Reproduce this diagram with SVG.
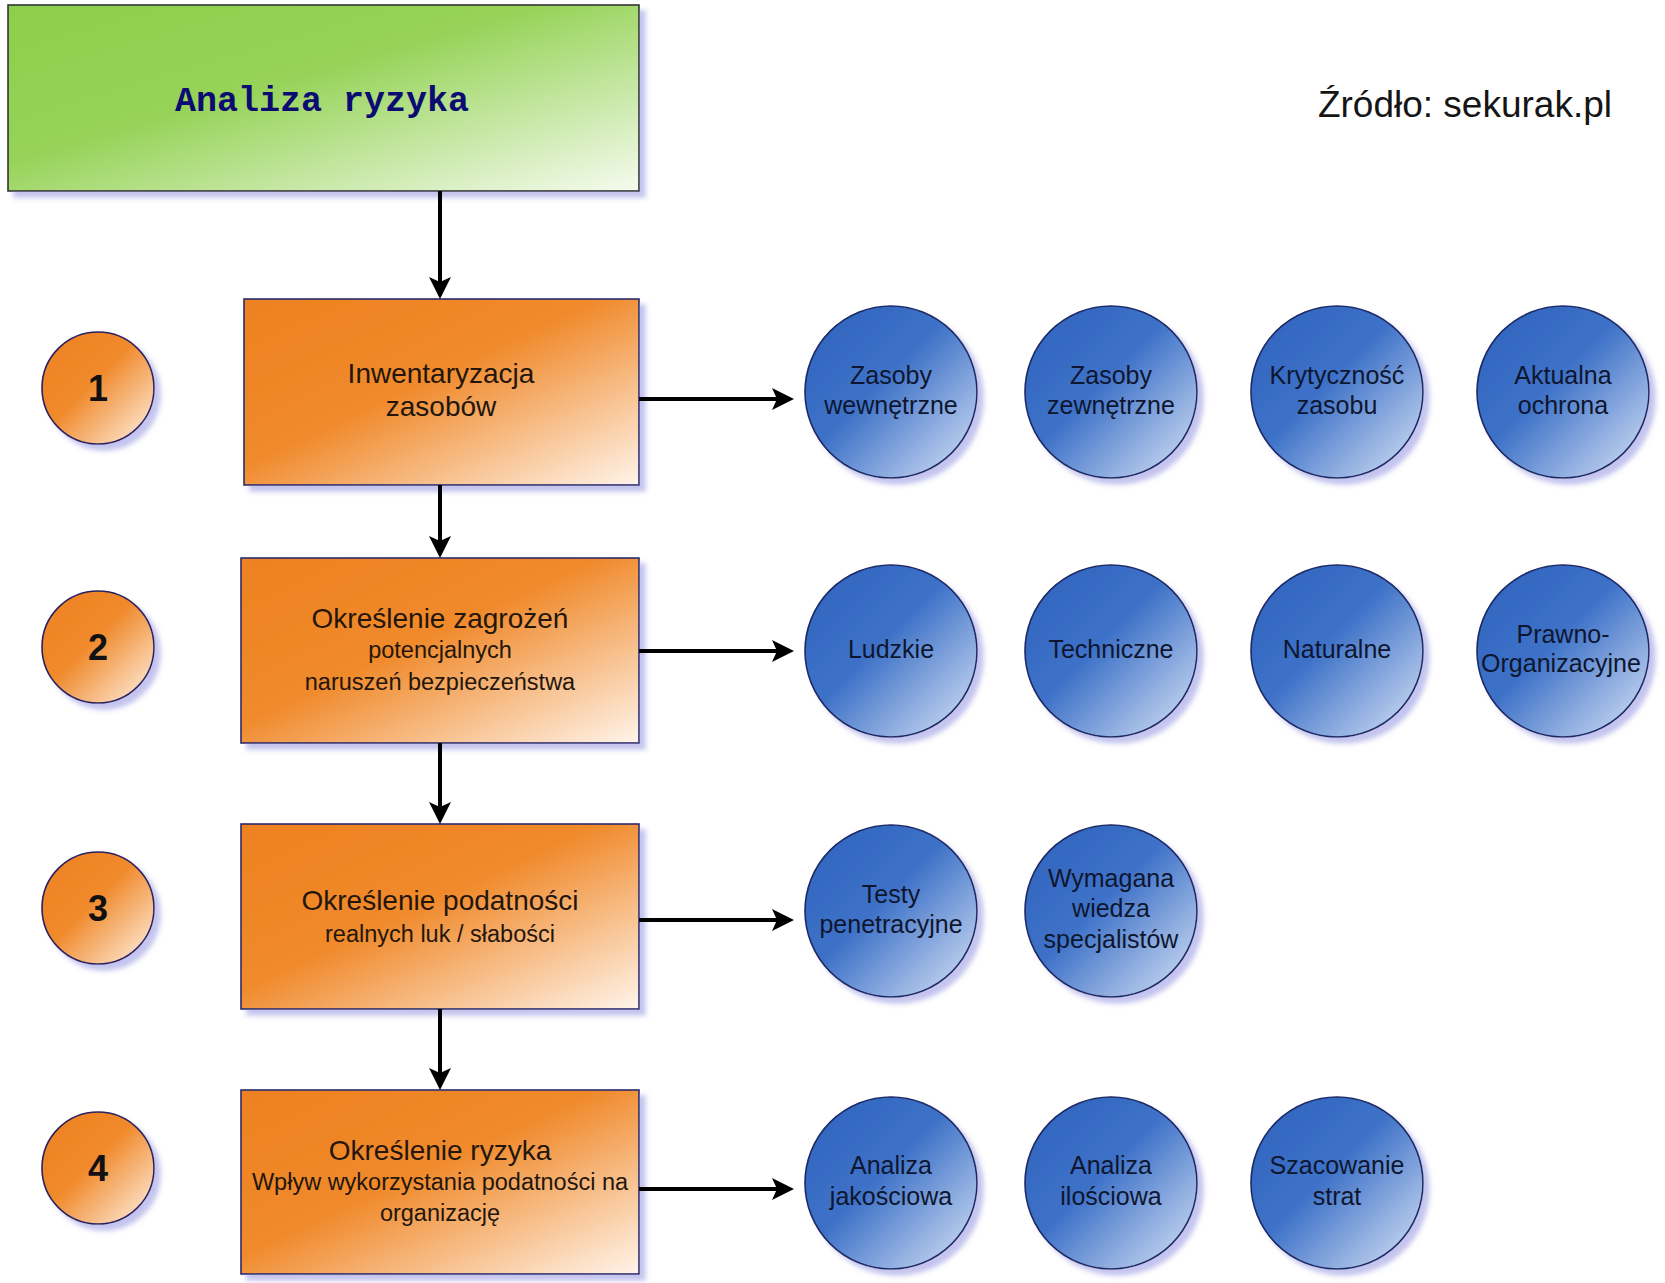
<svg xmlns="http://www.w3.org/2000/svg" width="1665" height="1283" viewBox="0 0 1665 1283">
  <defs>
    <linearGradient id="gOrange" x1="0" y1="0" x2="1" y2="1">
      <stop offset="0" stop-color="#EE8120"/>
      <stop offset="0.45" stop-color="#F08A2C"/>
      <stop offset="1" stop-color="#FFF4EA"/>
    </linearGradient>
    <linearGradient id="gGreen" x1="0" y1="0" x2="1" y2="1">
      <stop offset="0" stop-color="#8DCE4B"/>
      <stop offset="0.42" stop-color="#96D358"/>
      <stop offset="1" stop-color="#F5FBEF"/>
    </linearGradient>
    <linearGradient id="gBlue" x1="0" y1="0" x2="1" y2="1">
      <stop offset="0" stop-color="#2E62BD"/>
      <stop offset="0.45" stop-color="#3E72C8"/>
      <stop offset="1" stop-color="#DCE6F7"/>
    </linearGradient>
    <filter id="shadow" x="-10%" y="-10%" width="125%" height="125%">
      <feDropShadow dx="6" dy="6" stdDeviation="2.5" flood-color="#B9B9EC" flood-opacity="0.85"/>
    </filter>
    <marker id="arrow" viewBox="0 0 22 22" markerWidth="22" markerHeight="22" refX="9" refY="11" orient="auto" markerUnits="userSpaceOnUse">
      <path d="M0,0 L22,11 L0,22 L5,11 Z" fill="#000"/>
    </marker>
    <style>
      .box { stroke: #2A2A6E; stroke-width: 1.6; filter: url(#shadow); }
      .orange { fill: url(#gOrange); }
      .green { fill: url(#gGreen); stroke: #333; }
      .blue { fill: url(#gBlue); stroke: #1C2A66; stroke-width: 1.6; filter: url(#shadow); }
      .num { fill: url(#gOrange); stroke: #2A2060; stroke-width: 1.6; filter: url(#shadow); }
      .t { font-family: "Liberation Sans", Arial, sans-serif; text-anchor: middle; fill: #24160C; }
      .big { font-size: 28px; }
      .sub { font-size: 23.5px; }
      .ct { font-family: "Liberation Sans", Arial, sans-serif; text-anchor: middle; fill: #0E1630; font-size: 25px; }
      .n { font-family: "Liberation Sans", Arial, sans-serif; text-anchor: middle; font-weight: bold; font-size: 36px; fill: #111; }
      .link { stroke: #000; stroke-width: 4; fill: none; marker-end: url(#arrow); }
    </style>
  </defs>

  <rect width="1665" height="1283" fill="#fff"/>

  <!-- source caption -->
  <text x="1612" y="117" font-family="Liberation Sans, Arial, sans-serif" font-size="37" text-anchor="end" fill="#151515">Źródło: sekurak.pl</text>

  <!-- header -->
  <g id="analiza-ryzyka">
    <rect class="box green" x="8" y="5" width="631" height="186"/>
    <text x="322" y="111" font-family="Liberation Mono, Courier New, monospace" font-weight="bold" font-size="35" text-anchor="middle" fill="#0B0B72">Analiza ryzyka</text>
  </g>

  <!-- step numbers -->
  <g id="step-1"><circle class="num" cx="98" cy="388" r="56"/><text class="n" x="98" y="401">1</text></g>
  <g id="step-2"><circle class="num" cx="98" cy="647" r="56"/><text class="n" x="98" y="660">2</text></g>
  <g id="step-3"><circle class="num" cx="98" cy="908" r="56"/><text class="n" x="98" y="921">3</text></g>
  <g id="step-4"><circle class="num" cx="98" cy="1168" r="56"/><text class="n" x="98" y="1181">4</text></g>

  <!-- process steps -->
  <g id="inwentaryzacja">
    <rect class="box orange" x="244" y="299" width="395" height="186"/>
    <text class="t big" x="441" y="383">Inwentaryzacja</text>
    <text class="t big" x="441" y="416">zasobów</text>
  </g>
  <g id="zagrozenia">
    <rect class="box orange" x="241" y="558" width="398" height="185"/>
    <text class="t big" x="440" y="628">Określenie zagrożeń</text>
    <text class="t sub" x="440" y="658">potencjalnych</text>
    <text class="t sub" x="440" y="690">naruszeń bezpieczeństwa</text>
  </g>
  <g id="podatnosci">
    <rect class="box orange" x="241" y="824" width="398" height="185"/>
    <text class="t big" x="440" y="910">Określenie podatności</text>
    <text class="t sub" x="440" y="942">realnych luk / słabości</text>
  </g>
  <g id="ryzyko">
    <rect class="box orange" x="241" y="1090" width="398" height="184"/>
    <text class="t big" x="440" y="1160">Określenie ryzyka</text>
    <text class="t sub" x="440" y="1190">Wpływ wykorzystania podatności na</text>
    <text class="t sub" x="440" y="1221">organizację</text>
  </g>

  <!-- row 1 -->
  <g id="zasoby-wewnetrzne"><circle class="blue" cx="891" cy="392" r="86"/>
    <text class="ct" x="891" y="384">Zasoby</text><text class="ct" x="891" y="414">wewnętrzne</text></g>
  <g id="zasoby-zewnetrzne"><circle class="blue" cx="1111" cy="392" r="86"/>
    <text class="ct" x="1111" y="384">Zasoby</text><text class="ct" x="1111" y="414">zewnętrzne</text></g>
  <g id="krytycznosc"><circle class="blue" cx="1337" cy="392" r="86"/>
    <text class="ct" x="1337" y="384">Krytyczność</text><text class="ct" x="1337" y="414">zasobu</text></g>
  <g id="aktualna-ochrona"><circle class="blue" cx="1563" cy="392" r="86"/>
    <text class="ct" x="1563" y="384">Aktualna</text><text class="ct" x="1563" y="414">ochrona</text></g>

  <!-- row 2 -->
  <g id="ludzkie"><circle class="blue" cx="891" cy="651" r="86"/>
    <text class="ct" x="891" y="658">Ludzkie</text></g>
  <g id="techniczne"><circle class="blue" cx="1111" cy="651" r="86"/>
    <text class="ct" x="1111" y="658">Techniczne</text></g>
  <g id="naturalne"><circle class="blue" cx="1337" cy="651" r="86"/>
    <text class="ct" x="1337" y="658">Naturalne</text></g>
  <g id="prawno-organizacyjne"><circle class="blue" cx="1563" cy="651" r="86"/>
    <text class="ct" x="1563" y="643">Prawno-</text><text class="ct" x="1561" y="672">Organizacyjne</text></g>

  <!-- row 3 -->
  <g id="testy-penetracyjne"><circle class="blue" cx="891" cy="911" r="86"/>
    <text class="ct" x="891" y="903">Testy</text><text class="ct" x="891" y="933">penetracyjne</text></g>
  <g id="wiedza-specjalistow"><circle class="blue" cx="1111" cy="911" r="86"/>
    <text class="ct" x="1111" y="887">Wymagana</text><text class="ct" x="1111" y="917">wiedza</text><text class="ct" x="1111" y="948">specjalistów</text></g>

  <!-- row 4 -->
  <g id="analiza-jakosciowa"><circle class="blue" cx="891" cy="1183" r="86"/>
    <text class="ct" x="891" y="1174">Analiza</text><text class="ct" x="891" y="1205">jakościowa</text></g>
  <g id="analiza-ilosciowa"><circle class="blue" cx="1111" cy="1183" r="86"/>
    <text class="ct" x="1111" y="1174">Analiza</text><text class="ct" x="1111" y="1205">ilościowa</text></g>
  <g id="szacowanie-strat"><circle class="blue" cx="1337" cy="1183" r="86"/>
    <text class="ct" x="1337" y="1174">Szacowanie</text><text class="ct" x="1337" y="1205">strat</text></g>

  <!-- connectors, drawn over the node shadows -->
  <g id="connectors">
    <line class="link" x1="440" y1="191" x2="440" y2="286"/>
    <line class="link" x1="440" y1="485" x2="440" y2="545"/>
    <line class="link" x1="440" y1="743" x2="440" y2="811"/>
    <line class="link" x1="440" y1="1009" x2="440" y2="1077"/>
    <line class="link" x1="639" y1="399" x2="781" y2="399"/>
    <line class="link" x1="639" y1="651" x2="781" y2="651"/>
    <line class="link" x1="639" y1="920" x2="781" y2="920"/>
    <line class="link" x1="639" y1="1189" x2="781" y2="1189"/>
  </g>
</svg>
